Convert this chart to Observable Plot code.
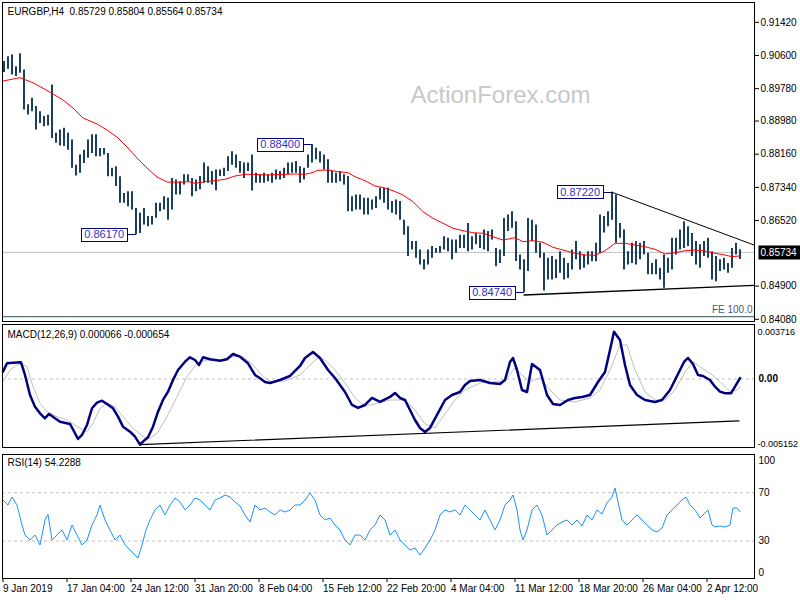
<!DOCTYPE html>
<html>
<head>
<meta charset="utf-8">
<script src="https://cdn.jsdelivr.net/npm/d3@7"></script>
<script src="https://cdn.jsdelivr.net/npm/@observablehq/plot@0.6"></script>
<style>
  html, body { margin: 0; padding: 0; background: #fff; }
  #chart { position: relative; width: 800px; height: 600px; overflow: hidden; background: #fff; }
  #chart svg { position: absolute; left: 0; top: 0; }
  #chart text { white-space: pre; }
</style>
</head>
<body>
<div id="chart"></div>
<script>
// ---------------- data ----------------
const priceHeader = "EURGBP,H4  0.85729 0.85804 0.85564 0.85734";
const macdHeader = "MACD(12,26,9) 0.000066 -0.000654";
const rsiHeader = "RSI(14) 54.2288";
const watermark = "ActionForex.com";

// highs / lows, one entry per two H4 bars (8 hours)
const barHigh = [0.9045,0.9057,0.9061,0.9032,0.9064,0.9024,0.8938,0.8954,0.8934,0.8921,
0.8909,0.8912,0.8987,0.8868,0.8876,0.8880,0.8868,0.8851,0.8789,0.8814,
0.8826,0.8851,0.8864,0.8864,0.8830,0.8830,0.8818,0.8781,0.8785,0.8760,
0.8719,0.8723,0.8723,0.8682,0.8670,0.8682,0.8662,0.8662,0.8695,0.8695,
0.8711,0.8707,0.8756,0.8752,0.8748,0.8765,0.8765,0.8756,0.8752,0.8761,
0.8794,0.8785,0.8773,0.8777,0.8777,0.8781,0.8810,0.8822,0.8814,0.8798,
0.8794,0.8794,0.8814,0.8769,0.8765,0.8769,0.8765,0.8769,0.8777,0.8773,
0.8781,0.8794,0.8794,0.8798,0.8785,0.8781,0.8814,0.8840,0.8831,0.8822,
0.8814,0.8802,0.8773,0.8769,0.8773,0.8765,0.8761,0.8711,0.8715,0.8715,
0.8707,0.8707,0.8703,0.8711,0.8732,0.8732,0.8732,0.8699,0.8703,0.8699,
0.8653,0.8637,0.8600,0.8600,0.8579,0.8555,0.8579,0.8588,0.8583,0.8588,
0.8612,0.8608,0.8604,0.8604,0.8616,0.8616,0.8645,0.8612,0.8620,0.8616,
0.8629,0.8625,0.8629,0.8583,0.8579,0.8657,0.8666,0.8674,0.8649,0.8567,
0.8555,0.8657,0.8653,0.8641,0.8596,0.8571,0.8559,0.8563,0.8555,0.8575,
0.8559,0.8546,0.8579,0.8600,0.8575,0.8567,0.8575,0.8575,0.8596,0.8666,
0.8662,0.8674,0.8722,0.8715,0.8645,0.8629,0.8575,0.8596,0.8600,0.8596,
0.8600,0.8571,0.8546,0.8555,0.8534,0.8567,0.8559,0.8608,0.8608,0.8629,
0.8649,0.8637,0.8620,0.8600,0.8592,0.8600,0.8608,0.8575,0.8563,0.8555,
0.8559,0.8546,0.8583,0.8596,0.8580];
const barLow = [0.9018,0.9026,0.9012,0.9008,0.9016,0.8925,0.8913,0.8921,0.8876,0.8892,
0.8884,0.8886,0.8855,0.8843,0.8836,0.8835,0.8826,0.8781,0.8762,0.8769,
0.8793,0.8806,0.8818,0.8810,0.8810,0.8814,0.8760,0.8760,0.8736,0.8695,
0.8695,0.8686,0.8678,0.8617,0.8620,0.8641,0.8637,0.8641,0.8658,0.8674,
0.8678,0.8653,0.8678,0.8715,0.8715,0.8740,0.8748,0.8711,0.8723,0.8728,
0.8744,0.8744,0.8740,0.8726,0.8761,0.8761,0.8773,0.8789,0.8781,0.8769,
0.8756,0.8773,0.8725,0.8744,0.8744,0.8744,0.8748,0.8744,0.8752,0.8752,
0.8756,0.8765,0.8769,0.8769,0.8744,0.8752,0.8781,0.8794,0.8802,0.8794,
0.8777,0.8744,0.8744,0.8744,0.8748,0.8740,0.8674,0.8674,0.8678,0.8678,
0.8666,0.8666,0.8678,0.8682,0.8703,0.8695,0.8678,0.8670,0.8666,0.8653,
0.8616,0.8563,0.8579,0.8559,0.8542,0.8530,0.8542,0.8559,0.8571,0.8571,
0.8579,0.8575,0.8555,0.8571,0.8583,0.8583,0.8575,0.8579,0.8592,0.8583,
0.8579,0.8575,0.8604,0.8538,0.8546,0.8563,0.8625,0.8633,0.8551,0.8530,
0.8474,0.8526,0.8600,0.8571,0.8559,0.8478,0.8505,0.8505,0.8509,0.8522,
0.8505,0.8509,0.8530,0.8555,0.8530,0.8534,0.8542,0.8550,0.8550,0.8571,
0.8621,0.8637,0.8653,0.8596,0.8608,0.8530,0.8542,0.8546,0.8542,0.8555,
0.8567,0.8518,0.8518,0.8518,0.8505,0.8485,0.8522,0.8530,0.8567,0.8579,
0.8583,0.8588,0.8563,0.8542,0.8534,0.8563,0.8559,0.8505,0.8501,0.8526,
0.8530,0.8522,0.8534,0.8567,0.8556];

// red moving average (bar index, price)
const maIdx = [0,8.5,15,20,25,30,35,40,47,52,57,62,67,72,77,82,87,93,96,101,106,111,116,121,126,131,136,141,146,151,154.5,157.5,162.5,167.5,172.5,176,181,186,190,195,200,205,210,215,220,225,230,235,240,245,250,253.5,256,260,265,270,275,280,286,291,296,301,306,311,316,321,326,331,336,341,346,351,356,361,364.5,368];
const maVal = [0.89969,0.90051,0.89927,0.89789,0.89648,0.89500,0.89302,0.89055,0.88907,0.88758,0.88585,0.88338,0.88066,0.87819,0.87597,0.87473,0.87466,0.87481,0.87441,0.87481,0.87505,0.87540,0.87621,0.87663,0.87663,0.87646,0.87654,0.87663,0.87671,0.87663,0.87703,0.87762,0.87770,0.87728,0.87703,0.87604,0.87505,0.87374,0.87337,0.87258,0.87152,0.86986,0.86739,0.86576,0.86453,0.86329,0.86270,0.86220,0.86205,0.86121,0.86040,0.86072,0.86097,0.85998,0.86022,0.85983,0.85859,0.85793,0.85711,0.85669,0.85662,0.85775,0.85958,0.85958,0.85916,0.85874,0.85810,0.85694,0.85726,0.85775,0.85793,0.85768,0.85711,0.85669,0.85627,0.85644];

// MACD main line
const macdIdx = [0,2,5,9,11,13.5,16,18.5,21,23,26,28.5,33.5,36,37.5,39.5,42,44.5,47,49.5,52,55,57.5,60,63.5,66,68.5,70,72.5,75,77.5,80,82.5,85,87.5,91,93.5,96,98,100,103.5,108.5,112,115,118.5,122.5,126,128.5,131,133.5,138.5,143.5,148.5,151,155,158.5,162.5,166,171,174.5,177.5,181,184.5,188.5,193.5,196,198.5,201,203.5,206,208.5,211,213.5,217,221,224.5,228.5,231,233.5,238.5,243.5,248.5,251,253.5,255,257,259.5,262,264.5,268.5,272,275,278.5,282.5,286,289.5,293.5,297.5,301,303.5,305.5,308.5,311,313.5,317,321,326,329.5,333.5,337,340.5,342.5,345,347.5,350,353.5,356,358.5,361,364,366,368.5];
const macdVal = [0.000573,0.001232,0.001279,0.001311,0.000314,-0.001256,-0.002174,-0.002692,-0.003084,-0.002747,-0.003084,-0.003351,-0.003532,-0.004262,-0.004709,-0.004395,-0.003610,-0.002299,-0.001860,-0.001703,-0.001962,-0.002299,-0.002959,-0.003744,-0.004136,-0.004528,-0.005152,-0.004921,-0.004575,-0.003744,-0.002566,-0.001648,-0.000997,-0.000078,0.000706,0.001358,0.001703,0.001491,0.001099,0.001703,0.001546,0.001436,0.001546,0.001962,0.001750,0.001232,0.000314,0.000055,-0.000235,-0.000314,-0.000078,0.000235,0.001020,0.001648,0.002119,0.001648,0.000706,0.000078,-0.001020,-0.002041,-0.002276,-0.002041,-0.001491,-0.001805,-0.001413,-0.001099,-0.001491,-0.001648,-0.002433,-0.003218,-0.003846,-0.004159,-0.003846,-0.002825,-0.001648,-0.001256,-0.001020,-0.000471,-0.000157,-0.000078,-0.000314,-0.000392,-0.000078,0.001334,0.001648,0.000706,-0.000863,-0.001020,0.001177,0.000706,-0.001256,-0.001962,-0.002041,-0.001648,-0.001491,-0.001413,-0.001256,-0.000235,0.000549,0.002276,0.003716,0.003061,0.001099,-0.000471,-0.001256,-0.001648,-0.001805,-0.001648,-0.000863,0.000235,0.001334,0.001648,0.001177,0.000314,0.000235,-0.000078,-0.000604,-0.000997,-0.001122,-0.001122,-0.000604,0.000066];

// MACD signal line
const signalIdx = [0,3.5,8.5,12,15,18.5,22,27,32,37,42,45,48.5,52,56,60,65,70,73.5,77,82,87,92,97,102,108.5,115,120,125,128.5,133.5,141,148.5,153.5,157.5,161,166,171,176,181,186,193.5,201,206,211,216,221,226,231,238.5,246,251,256,259.5,263.5,268.5,273.5,278.5,286,293.5,298.5,303.5,308.5,312,316,321,326,331,336,341,345,348.5,353.5,358.5,363.5,367,368.5];
const signalVal = [-0.000212,0.000706,0.001232,0.000965,-0.000604,-0.001907,-0.002566,-0.002959,-0.003218,-0.003744,-0.004136,-0.003477,-0.002299,-0.001907,-0.002174,-0.002959,-0.003869,-0.004528,-0.004654,-0.004262,-0.002959,-0.001389,0.000181,0.001232,0.001491,0.001491,0.001750,0.001750,0.001099,0.000447,-0.000235,-0.000157,0.000314,0.001099,0.001648,0.001491,0.000706,-0.000314,-0.001491,-0.002119,-0.001962,-0.001648,-0.001648,-0.002433,-0.003532,-0.003846,-0.002747,-0.001648,-0.000863,-0.000314,-0.000235,-0.000157,0.000863,0.000314,-0.000235,0.000078,-0.000863,-0.001648,-0.001805,-0.001491,-0.000863,0.000706,0.002668,0.002668,0.000706,-0.001020,-0.001648,-0.001648,-0.000863,0.000549,0.001334,0.000965,0.000471,-0.000212,-0.000997,-0.000863,-0.000654];

// RSI(14)
const rsiIdx = [0,2.5,4.5,7,9.5,11,13.5,16,18.5,21,22.5,24.5,27,29.5,32,34.5,37,39.5,42,44.5,47,48.5,51,53.5,56,58.5,61,63.5,66,67.5,69.5,71.5,73.5,76,78.5,81,83.5,86,88.5,91,93.5,96,98.5,101,103.5,106,108.5,111,113.5,116,118.5,121,123.5,126,128.5,131,133.5,136,138.5,141,143.5,146,148.5,151,153.5,156,158.5,161,163.5,166,168.5,171,173.5,176,178.5,181,183.5,186,188.5,191,193.5,196,198.5,201,203.5,206,208.5,211,213.5,216,218.5,221,223.5,226,228.5,231,233.5,236,238.5,241,243.5,246,248.5,251,253.5,255,257,258.5,260,262,264.5,267,269.5,272,274.5,277,279.5,282,284.5,287,289.5,292,294.5,297,299.5,302,304.5,306,307.5,309.5,312,314.5,317,319.5,322,324.5,327,329.5,332,334.5,337,339.5,341.5,343.5,346,348.5,352.5,354.5,356,358.5,361,363.5,365,367,368.5];
const rsiVal = [63.9,59.8,66.4,59.8,43.2,34.9,30.8,34.9,26.7,47.4,52.0,30.8,34.9,39.1,30.8,43.2,34.9,26.7,30.8,43.2,51.5,59.8,47.4,39.1,30.8,34.9,26.7,22.5,18.4,15.9,26.7,39.1,47.4,55.7,59.8,51.5,59.8,65.6,62.3,55.7,59.8,65.6,63.9,59.8,55.7,63.9,65.6,68.1,66.4,62.3,59.0,51.5,45.7,59.8,55.7,57.3,54.0,51.5,55.7,54.0,55.7,59.8,59.8,63.9,69.7,63.9,51.5,47.4,49.0,43.2,39.1,30.8,26.7,34.9,34.9,30.8,39.1,43.2,51.5,47.4,34.9,39.1,30.8,26.7,22.5,24.2,18.4,24.2,30.8,39.1,51.5,55.7,54.0,55.7,51.5,59.8,55.7,51.5,47.4,55.7,47.4,39.1,47.4,59.8,63.9,68.1,55.7,39.1,30.8,39.1,55.7,59.8,51.5,34.9,39.1,43.2,45.7,47.4,43.2,47.4,42.4,51.5,47.4,55.7,52.3,61.5,66.4,73.9,62.3,47.4,43.2,47.4,51.5,47.4,43.2,39.1,37.4,40.7,51.5,55.7,59.8,63.9,66.4,59.8,55.7,49.0,55.7,43.2,41.6,42.4,41.6,43.2,57.3,57.3,54.2];

// axes, levels and annotations
const priceTicks = [0.9142,0.9060,0.8978,0.8898,0.8816,0.8734,0.8652,0.8490,0.8408];
const macdTicks = [0.003716,-0.005152];
const rsiTicks = [70,30];
const xTickIdx = [0,32,64,96,128,160,192,224,256,288,320,352];
const xTickLabels = ["9 Jan 2019","17 Jan 04:00","24 Jan 12:00","31 Jan 20:00","8 Feb 04:00","15 Feb 12:00","22 Feb 20:00","4 Mar 04:00","11 Mar 12:00","18 Mar 20:00","26 Mar 04:00","2 Apr 12:00"];
const lastPrice = 0.85734;
const feLevel = 0.84144;
const feLabel = "FE 100.0";
const peakIdx = [66.5,154.5,304.5,260.5];
const peakVal = [0.8617,0.8840,0.8722,0.8474];
const upperTrendIdx = [304.5,375.5];
const upperTrendVal = [0.8722,0.85916];
const lowerTrendIdx = [260.5,375.5];
const lowerTrendVal = [0.8468,0.8492];
const macdTrendIdx = [68.5,368];
const macdTrendVal = [-0.005152,-0.003296];

// ---------------- build ----------------
const zip = (a, b) => a.map((x, i) => ({b: x, v: b[i]}));
const bars = barHigh.map((h, i) => ({b: 2 * i + 0.5, high: h, low: barLow[i]}));
const peaks = zip(peakIdx, peakVal);
const FONT = "'Liberation Sans', Arial, sans-serif";
const X = {domain: [0, 375.5], range: [2.5, 753.5]};
const common = {
  width: 800, height: 600, marginLeft: 2, marginRight: 46,
  style: {background: "transparent", fontFamily: FONT, fontSize: "10px", color: "#000", overflow: "visible"}
};

const price = Plot.plot({
  ...common, marginTop: 2, marginBottom: 279,
  x: {...X, axis: null},
  y: {domain: [0.8408, 0.9142], range: [318.8, 21.8], label: null},
  marks: [
    Plot.text([watermark], {frameAnchor: "top-left", dx: 498, dy: 93, text: d => d, textAnchor: "middle", lineAnchor: "middle", fontSize: 24, fill: "#c8c8c8"}),
    Plot.ruleY([lastPrice], {stroke: "#c0c0c0"}),
    Plot.ruleY([feLevel], {stroke: "#2f5252"}),
    Plot.text([feLevel], {y: d => d, frameAnchor: "right", textAnchor: "end", dx: -2, dy: -7, text: () => feLabel, fill: "#4a5878"}),
    Plot.ruleX(bars, {x: "b", y1: "low", y2: "high", stroke: "#1b3f5e", strokeWidth: 2}),
    Plot.line(zip(maIdx, maVal), {x: "b", y: "v", stroke: "#ff0000", strokeWidth: 1}),
    Plot.line(zip(upperTrendIdx, upperTrendVal), {x: "b", y: "v", stroke: "#000", strokeWidth: 1}),
    Plot.line(zip(lowerTrendIdx, lowerTrendVal), {x: "b", y: "v", stroke: "#000", strokeWidth: 1.3}),
    Plot.text(peaks, {x: "b", y: "v", text: d => d.v.toFixed(5), textAnchor: "end", dx: -12, fill: "#3030c8", fontSize: 11}),
    Plot.text([priceHeader], {frameAnchor: "top-left", dx: 5, dy: 5, lineAnchor: "top", textAnchor: "start", text: d => d, fill: "#000"}),
    Plot.frame({stroke: "#000"}),
    Plot.axisY(priceTicks, {anchor: "right", tickSize: 4, tickPadding: 2, tickFormat: d => d.toFixed(5), label: null}),
    Plot.text([lastPrice], {y: d => d, frameAnchor: "right", dx: 6, textAnchor: "start", fill: "#fff", text: d => d.toFixed(5)})
  ]
});

const macd = Plot.plot({
  ...common, marginTop: 324, marginBottom: 153,
  x: {...X, axis: null},
  y: {domain: [-0.005152, 0.003716], range: [444.1, 331.15], label: null},
  marks: [
    Plot.ruleY([0], {stroke: "#c0c0c0", strokeDasharray: "3,3"}),
    Plot.line(zip(signalIdx, signalVal), {x: "b", y: "v", stroke: "#c0c0c0", strokeWidth: 1}),
    Plot.line(zip(macdIdx, macdVal), {x: "b", y: "v", stroke: "#000080", strokeWidth: 2.5}),
    Plot.line(zip(macdTrendIdx, macdTrendVal), {x: "b", y: "v", stroke: "#000", strokeWidth: 1.2}),
    Plot.text([macdHeader], {frameAnchor: "top-left", dx: 5, dy: 6, lineAnchor: "top", textAnchor: "start", text: d => d, fill: "#000"}),
    Plot.frame({stroke: "#000"}),
    Plot.axisY(macdTicks, {anchor: "right", tickSize: 0, tickPadding: 3, fontSize: 9, tickFormat: d => d.toFixed(6), label: null}),
    Plot.text([0], {y: d => d, frameAnchor: "right", dx: 4, textAnchor: "start", text: () => "0.00", fontWeight: "bold"})
  ]
});

const rsi = Plot.plot({
  ...common, marginTop: 454, marginBottom: 22,
  x: {...X, label: null},
  y: {domain: [0, 100], range: [576.7, 455.95], label: null},
  marks: [
    Plot.ruleY(rsiTicks, {stroke: "#c0c0c0", strokeDasharray: "3,3"}),
    Plot.line(zip(rsiIdx, rsiVal), {x: "b", y: "v", stroke: "#1e90ff", strokeWidth: 1}),
    Plot.text([rsiHeader], {frameAnchor: "top-left", dx: 5, dy: 4, lineAnchor: "top", textAnchor: "start", text: d => d, fill: "#000"}),
    Plot.frame({stroke: "#000"}),
    Plot.axisY(rsiTicks, {anchor: "right", tickSize: 0, tickPadding: 4, label: null}),
    Plot.text([100], {y: d => d, frameAnchor: "right", dx: 4, dy: 4.5, textAnchor: "start", text: d => String(d)}),
    Plot.text([0], {y: d => d, frameAnchor: "right", dx: 4, dy: -4, textAnchor: "start", text: d => String(d)}),
    Plot.axisX(xTickIdx, {anchor: "bottom", tickSize: 4, tickPadding: 2, textAnchor: "start", label: null,
      tickFormat: d => xTickLabels[xTickIdx.indexOf(d)]})
  ]
});

const chart = document.getElementById("chart");
[price, macd, rsi].forEach(s => chart.appendChild(s));

// ---------------- label boxes ----------------
const NS = "http://www.w3.org/2000/svg";
function addBoxes(svg, labels, opts) {
  const sr = svg.getBoundingClientRect();
  const out = [];
  svg.querySelectorAll("text").forEach(t => {
    if (!labels.includes(t.textContent)) return;
    const r = t.getBoundingClientRect();
    const x0 = Math.floor(r.left - sr.left - opts.padX) + 0.5;
    const x1 = Math.ceil(r.right - sr.left + opts.padX) + 0.5;
    const cy = (r.top + r.bottom) / 2 - sr.top;
    const y0 = Math.round(cy - opts.h / 2) + 0.5;
    const rect = document.createElementNS(NS, "rect");
    rect.setAttribute("x", x0); rect.setAttribute("y", y0);
    rect.setAttribute("width", x1 - x0); rect.setAttribute("height", opts.h);
    rect.setAttribute("fill", opts.fill);
    rect.setAttribute("stroke", opts.stroke || "none");
    let g = t; while (g.parentNode && g.parentNode !== svg) g = g.parentNode;
    svg.insertBefore(rect, g);
    out.push({t, x1, g});
  });
  return out;
}
const peakLabels = peakVal.map(v => v.toFixed(5));
const xs = price.scale("x"), ys = price.scale("y");
addBoxes(price, peakLabels, {padX: 3, h: 13, fill: "#fff", stroke: "#000080"}).forEach(({t, x1, g}) => {
  const i = peakLabels.indexOf(t.textContent);
  const px = xs.apply(peakIdx[i]) + 0.5;
  const py = Math.round(ys.apply(peakVal[i])) + 0.5;
  const ln = document.createElementNS(NS, "line");
  ln.setAttribute("x1", x1); ln.setAttribute("x2", px);
  ln.setAttribute("y1", py); ln.setAttribute("y2", py);
  ln.setAttribute("stroke", "#000080");
  price.insertBefore(ln, g);
});
addBoxes(price, [lastPrice.toFixed(5)], {padX: 2.5, h: 14, fill: "#000"});
</script>
</body>
</html>
